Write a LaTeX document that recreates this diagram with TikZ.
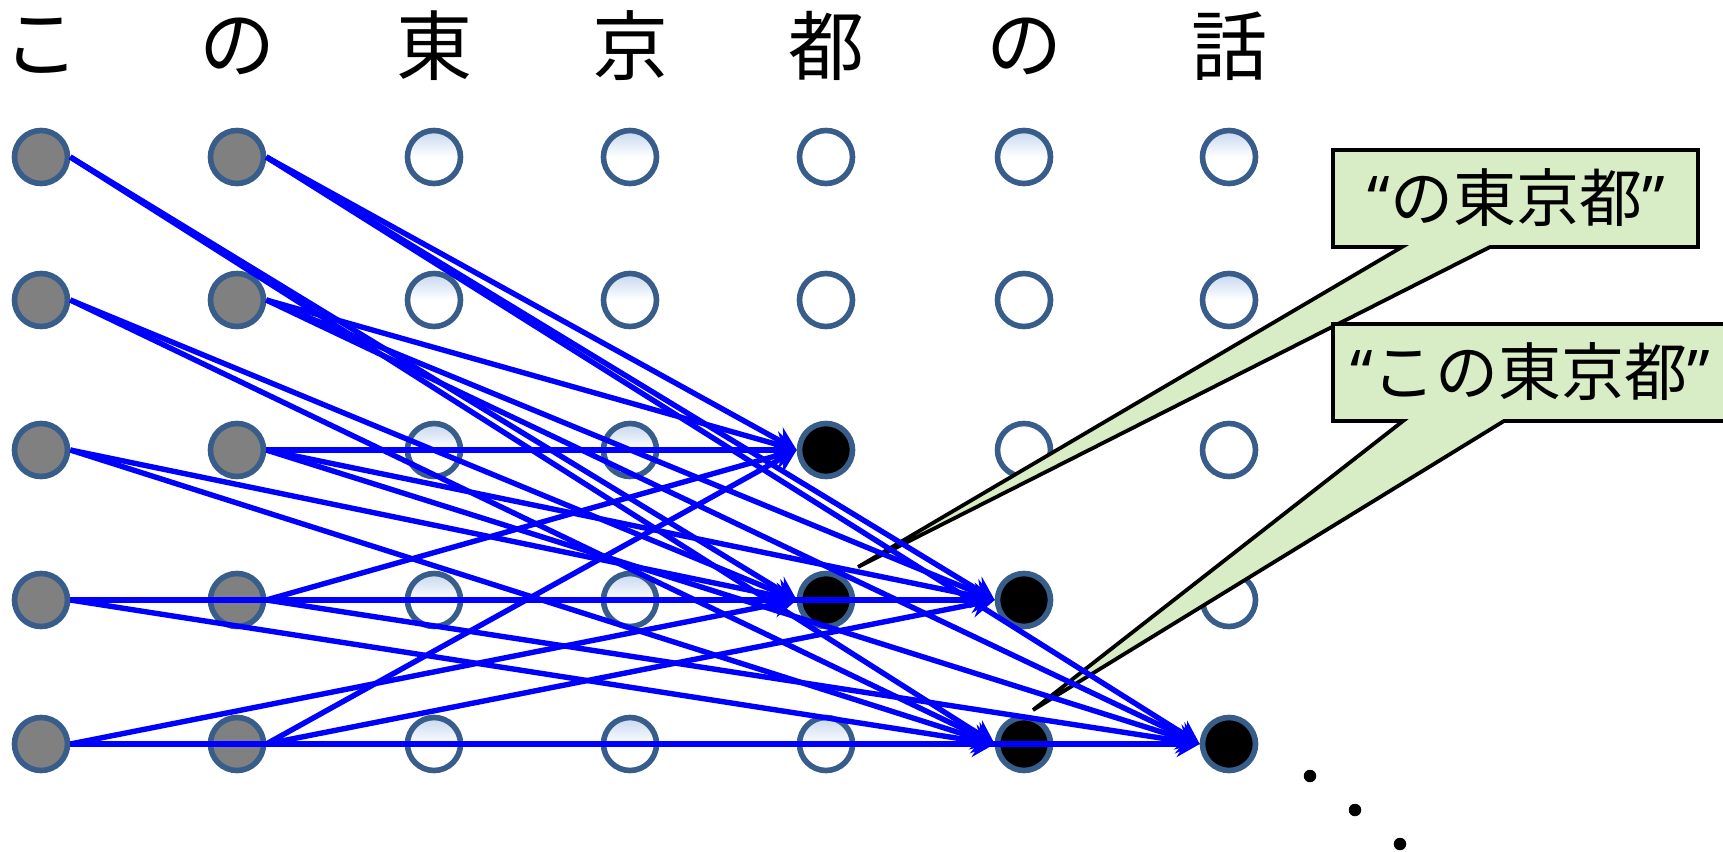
\documentclass[tikz,border=0pt]{standalone}
\usepackage{fontspec}
\newfontfamily\jpfont{Noto Sans CJK JP}
\newfontfamily\quotefont{Noto Sans}
\usetikzlibrary{arrows.meta}
\definecolor{ringblue}{HTML}{385D8A}
\definecolor{topblue}{HTML}{C5D7EF}
\definecolor{midgray}{RGB}{128,128,128}
\definecolor{calloutgreen}{RGB}{216,236,197}
\definecolor{edgeblue}{RGB}{0,0,255}

\begin{document}
\begin{tikzpicture}[x=1pt,y=-1pt,
  cell/.style={circle, draw=ringblue, line width=5.6pt, minimum size=53pt, inner sep=0pt},
  seen/.style={cell, fill=midgray},
  blank/.style={cell, top color=topblue, bottom color=white, middle color=white},
  plain/.style={cell, fill=white},
  hit/.style={cell, fill=black},
  link/.style={draw=edgeblue, line width=5.4pt,
    -{Stealth[length=23pt,width=26pt,inset=8pt]}},
  headchar/.style={font=\jpfont\fontsize{76}{76}\selectfont, inner sep=0pt},
  callout/.style={draw=black, line width=3.8pt, fill=calloutgreen, line join=miter},
  tag/.style={font=\jpfont\fontsize{63}{63}\selectfont, inner sep=0pt},
  dot/.style={circle, fill=black, inner sep=0pt, minimum size=12.5pt}
]
\useasboundingbox (0,0) rectangle (1723,851);
\clip (0,0) rectangle (1723,851);

% characters of the sentence, one per column
\foreach \c/\x/\ch in {0/41/こ,1/237/の,2/434/東,3/630/京,4/826/都,5/1024/の,6/1229/話}
  \node[headchar] (h\c) at (\x,46) {\ch};

% lattice of states: rows r = 0..4, columns c = 0..6
\foreach \r/\y in {0/157,1/300,2/450,3/600,4/744} {
  \node[seen] (n\r-0) at (41,\y) {};
  \node[seen] (n\r-1) at (237,\y) {};
  \node[blank] (n\r-2) at (434,\y) {};
  \node[blank] (n\r-3) at (630,\y) {};
}
\node[plain] (n0-4) at (826,157) {};
\node[plain] (n1-4) at (826,300) {};
\node[hit]   (n2-4) at (826,450) {};
\node[hit]   (n3-4) at (826,600) {};
\node[blank] (n4-4) at (826,744) {};
\node[blank] (n0-5) at (1024,157) {};
\node[plain] (n1-5) at (1024,300) {};
\node[plain] (n2-5) at (1024,450) {};
\node[hit]   (n3-5) at (1024,600) {};
\node[hit]   (n4-5) at (1024,744) {};
\node[blank] (n0-6) at (1229,157) {};
\node[blank] (n1-6) at (1229,300) {};
\node[plain] (n2-6) at (1229,450) {};
\node[plain] (n3-6) at (1229,600) {};
\node[hit]   (n4-6) at (1229,744) {};

% continuation dots
\node[dot] (d1) at (1310,776) {};
\node[dot] (d2) at (1355,810) {};
\node[dot] (d3) at (1400,844) {};

% callouts
\draw[callout] (1333,150) -- (1698,150) -- (1698,247) -- (1490,247)
  -- (858,567) -- (1402,247) -- (1333,247) -- cycle;
\node[tag] (tag1) at (1516,198) {{\quotefont “}の東京都{\quotefont ”}};
\draw[callout] (1333,324) -- (1745,324) -- (1745,421) -- (1504,421)
  -- (1033,710) -- (1403,421) -- (1333,421) -- cycle;
\node[tag, anchor=west] (tag2) at (1350,372) {{\quotefont “}この東京都{\quotefont ”}};

% transitions from the first two columns
\foreach \r in {0,...,4} {
  \draw[link] (n\r-0.east) -- (n3-4.west);
  \draw[link] (n\r-0.east) -- (n4-5.west);
  \draw[link] (n\r-1.east) -- (n2-4.west);
  \draw[link] (n\r-1.east) -- (n3-5.west);
  \draw[link] (n\r-1.east) -- (n4-6.west);
}
\end{tikzpicture}
\end{document}
